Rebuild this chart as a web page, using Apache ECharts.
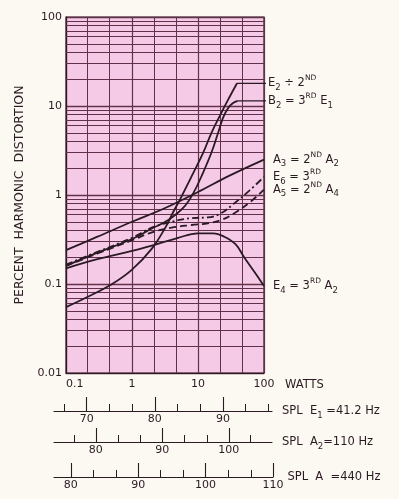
<!DOCTYPE html>
<html>
<head>
<meta charset="utf-8">
<script src="https://cdn.jsdelivr.net/npm/echarts@6/dist/echarts.min.js"></script>
<style>
  html, body { margin: 0; padding: 0; background: #fbf9f1; }
  #main { width: 399px; height: 499px; }
</style>
</head>
<body>
<div id="main"></div>
<script>
// harmonic distortion curves: [watts, percent]
const curveE2 = [[0.1, 0.055], [0.2, 0.07], [0.5, 0.1], [1, 0.145], [2, 0.25], [3.2, 0.43], [4.2, 0.64],
    [5.5, 0.93], [7.6, 1.5], [12, 3.0], [16, 5.0], [21.5, 7.8], [28.5, 11.7], [39, 18]];
const curveB2 = [[0.1, 0.16], [0.3, 0.225], [1, 0.32], [2, 0.42], [3.5, 0.52], [6, 0.72], [8.5, 1.05],
    [12, 1.8], [16, 3.0], [20, 4.9], [24, 7.4], [29, 9.6], [34, 10.8], [40, 11.4]];
const curveA3 = [[0.1, 0.24], [0.3, 0.34], [1, 0.5], [3, 0.7], [10, 1.08], [30, 1.65], [100, 2.5]];
const curveE6 = [[0.1, 0.165], [0.3, 0.23], [1, 0.33], [2, 0.43], [4, 0.5], [8, 0.55], [14, 0.56], [22, 0.62],
    [35, 0.8], [60, 1.12], [100, 1.6]];
const curveA5 = [[0.1, 0.16], [0.3, 0.22], [1, 0.31], [2, 0.38], [4, 0.43], [8, 0.46], [14, 0.48], [22, 0.52],
    [35, 0.62], [60, 0.82], [100, 1.15]];
const curveE4 = [[0.1, 0.15], [0.3, 0.19], [1, 0.235], [2, 0.27], [5, 0.33], [10, 0.37], [17, 0.37], [25, 0.34],
    [37, 0.28], [50, 0.2], [70, 0.14], [100, 0.095]];

// leader lines for the two top labels run out to this wattage
const LEADER_W = 132;

// graph paper: vertical lines every third of a decade
const xThirds = [0.215, 0.464, 2.15, 4.64, 21.5, 46.4];

// SPL scales under the chart
const splNames = ['{t|SPL  E}{sb|1}{t| =41.2 Hz}', '{t|SPL  A}{sb|2}{t|=110 Hz}', '{t|SPL  A  =440 Hz}'];
const splRange = [[65.2, 97.2], [73.7, 106.5], [77.5, 110]];
const splMajor = [[70, 80, 90], [80, 90, 100], [80, 90, 100, 110]];
const splMinor = [
    [66.7, 73.3, 76.7, 83.3, 86.7, 93.3, 96.7],
    [76.7, 83.3, 86.7, 93.3, 96.7, 103.3],
    [83.3, 86.7, 93.3, 96.7, 103.3, 106.7]
];
const splLineY = [411, 442, 477];

const INK = '#2b1a24';
const GRID = '#633049';
const PINK = '#f4cae6';
const FONT = 'DejaVu Sans';

const RICH = {
    t: { fontSize: 11.5, color: INK, fontFamily: FONT, lineHeight: 18, verticalAlign: 'middle' },
    sb: { fontSize: 8.5, color: INK, fontFamily: FONT, lineHeight: 10, verticalAlign: 'bottom' },
    sp: { fontSize: 7.5, color: INK, fontFamily: FONT, lineHeight: 10, verticalAlign: 'top' }
};

let chart = echarts.init(document.getElementById('main'), null, { renderer: 'canvas' });

let yMinor = [];
[0.01, 0.1, 1, 10].forEach(function (d) {
    for (let k = 2; k <= 9; k++) yMinor.push(+(k * d).toFixed(3));
});

function curve(name, data, dash, label, leader) {
    let s = [{
        name: name, type: 'line', data: data, xAxisIndex: 0, yAxisIndex: 0,
        smooth: 0.4, showSymbol: false, symbol: 'none', z: 10, silent: true,
        lineStyle: { color: INK, width: 1.8, type: dash },
        endLabel: leader ? { show: false } : { show: true, formatter: label, distance: 9, rich: RICH }
    }];
    if (leader) {
        let last = data[data.length - 1];
        s.push({
            name: name + ' leader', type: 'line', data: [last, [LEADER_W, last[1]]], clip: false,
            xAxisIndex: 0, yAxisIndex: 0, showSymbol: false, symbol: 'none', z: 10, silent: true,
            lineStyle: { color: INK, width: 1.3 },
            endLabel: { show: true, formatter: label, distance: 2, rich: RICH }
        });
    }
    return s;
}

let grids = [{ left: 66, top: 17, width: 198, height: 356, show: true, backgroundColor: PINK,
    borderColor: INK, borderWidth: 1.2, outerBoundsMode: 'none' }];
let xAxes = [{
    type: 'log', logBase: 10, min: 0.1, max: 100, gridIndex: 0,
    axisLine: { show: true, onZero: false, lineStyle: { color: INK, width: 1.2 } },
    axisTick: { show: false },
    splitLine: { show: true, lineStyle: { color: GRID, width: 1.2 } },
    axisLabel: { color: INK, fontSize: 11, fontFamily: FONT, margin: 6, alignMinLabel: 'left' },
    name: 'WATTS', nameLocation: 'end', nameGap: 21,
    nameTextStyle: { color: INK, fontSize: 11.5, fontFamily: FONT, verticalAlign: 'top', padding: [6, 0, 0, 0] }
}];
let yAxes = [{
    type: 'log', logBase: 10, min: 0.01, max: 100, gridIndex: 0,
    axisLine: { show: true, onZero: false, lineStyle: { color: INK, width: 1.2 } },
    axisTick: { show: false },
    splitLine: { show: true, lineStyle: { color: GRID, width: 1.4 } },
    axisLabel: { color: INK, fontSize: 11, fontFamily: FONT, margin: 4 },
    name: 'PERCENT  HARMONIC  DISTORTION', nameLocation: 'middle', nameRotate: 90, nameGap: 40,
    nameTextStyle: { color: INK, fontSize: 12.5, fontFamily: FONT }
}];

splNames.forEach(function (nm, i) {
    let g = i + 1;
    grids.push({ left: 54, width: i === 2 ? 219 : 218, top: splLineY[i] - 10, height: 10, outerBoundsMode: 'none' });
    xAxes.push({
        type: 'value', gridIndex: g, position: 'bottom', min: splRange[i][0], max: splRange[i][1],
        axisLine: { show: true, onZero: false, lineStyle: { color: INK, width: 1.1 } },
        axisTick: { show: true, inside: true, length: 14, customValues: splMajor[i], lineStyle: { color: INK, width: 1.1 } },
        axisLabel: { show: true, customValues: splMajor[i], color: INK, fontSize: 11, fontFamily: FONT, margin: 3 },
        splitLine: { show: false },
        name: nm, nameLocation: 'end', nameGap: 10,
        nameTextStyle: { rich: RICH }
    });
    xAxes.push({
        type: 'value', gridIndex: g, position: 'bottom', min: splRange[i][0], max: splRange[i][1],
        axisLine: { show: false, onZero: false },
        axisTick: { show: true, inside: true, length: 7, customValues: splMinor[i], lineStyle: { color: INK, width: 1 } },
        axisLabel: { show: false },
        splitLine: { show: false }
    });
    yAxes.push({ type: 'value', gridIndex: g, show: false, min: 0, max: 1 });
});

let series = [{
    name: 'paper', type: 'line', data: [], xAxisIndex: 0, yAxisIndex: 0, silent: true, z: 1,
    markLine: {
        silent: true, symbol: 'none', animation: false, z: 1,
        label: { show: false },
        lineStyle: { color: GRID, width: 1, type: 'solid' },
        emphasis: { disabled: true },
        data: yMinor.map(function (v) { return { yAxis: v }; })
            .concat(xThirds.map(function (v) { return { xAxis: v }; }))
    }
}];
series = series.concat(
    curve('E2', curveE2, 'solid', '{t|E}{sb|2}{t| ÷ 2}{sp|ND}', true),
    curve('B2', curveB2, 'solid', '{t|B}{sb|2}{t| = 3}{sp|RD}{t| E}{sb|1}', true),
    curve('A3', curveA3, 'solid', '{t|A}{sb|3}{t| = 2}{sp|ND}{t| A}{sb|2}', false),
    curve('E6', curveE6, [7, 3, 2, 3], '{t|E}{sb|6}{t| = 3}{sp|RD}', false),
    curve('A5', curveA5, [7, 4], '{t|A}{sb|5}{t| = 2}{sp|ND}{t| A}{sb|4}', false),
    curve('E4', curveE4, 'solid', '{t|E}{sb|4}{t| = 3}{sp|RD}{t| A}{sb|2}', false)
);

let option = {
    backgroundColor: '#fbf9f1',
    animation: false,
    textStyle: { fontFamily: FONT },
    grid: grids,
    xAxis: xAxes,
    yAxis: yAxes,
    series: series
};

chart.setOption(option);
</script>
</body>
</html>
